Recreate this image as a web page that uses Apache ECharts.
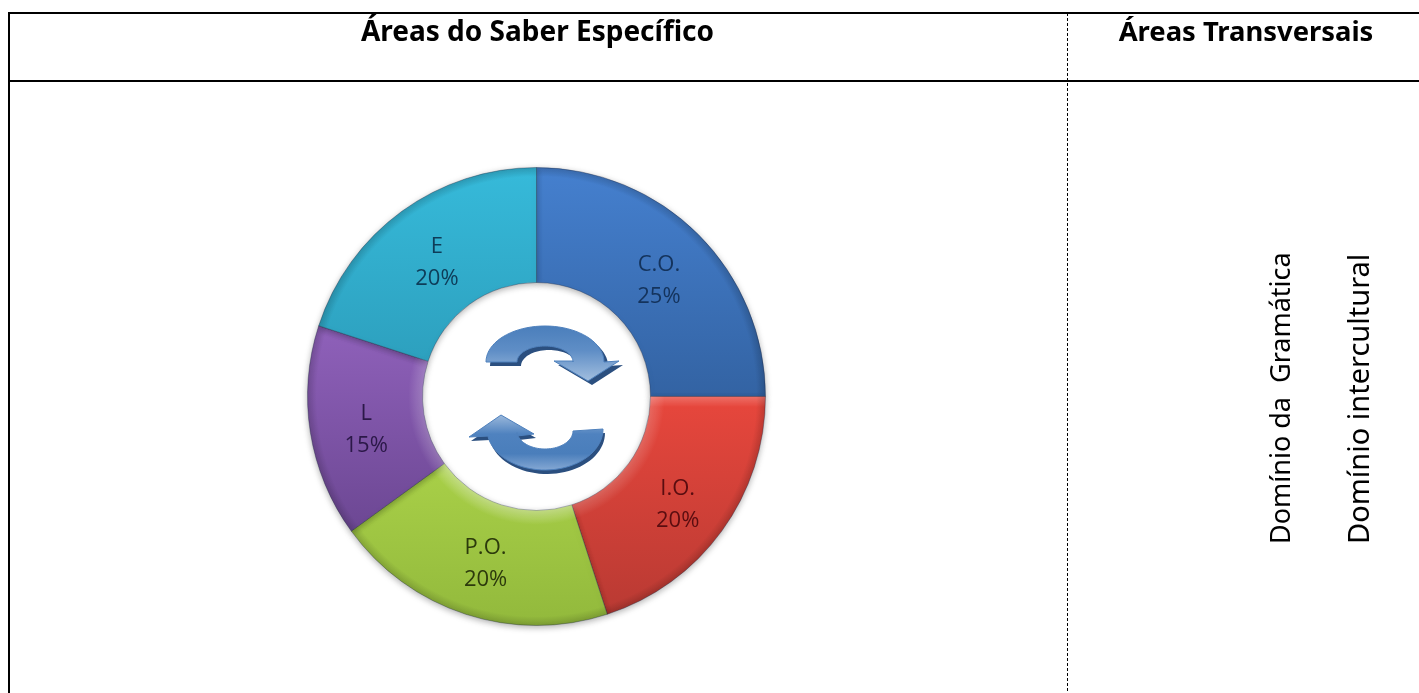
<!DOCTYPE html>
<html>
<head>
<meta charset="utf-8">
<style>
html,body{margin:0;padding:0;background:#fff}
#chart{width:1419px;height:693px}
</style>
<script src="https://cdn.jsdelivr.net/npm/echarts@6/dist/echarts.min.js"></script>
</head>
<body>
<div id="chart"></div>
<script>
var categories = ['C.O.', 'I.O.', 'P.O.', 'L', 'E']
var values = [25, 20, 20, 15, 20]
var sliceTop = ['#4580cf', '#e5463c', '#a9d048', '#8f61ba', '#36bada']
var sliceBottom = ['#3363a3', '#b93a33', '#92b93c', '#6c4793', '#2da0be']
var labelColors = ['#14335c', '#5a0d10', '#2c3a0c', '#2b1848', '#0e3c58']
var headers = ['Áreas do Saber Específico', 'Áreas Transversais']
var sideLabels = ['Domínio da  Gramática', 'Domínio intercultural']

var font = '"Noto Sans", sans-serif'
var pieCenter = [536.5, 396.5]
var pieOuter = 229
var pieInner = 114

function vgrad(stops) {
    return {
        type: 'linear', x: 0, y: 0, x2: 0, y2: 1,
        colorStops: stops.map(function (s) { return { offset: s[0], color: s[1] } })
    }
}

function solidLine(x1, y1, x2, y2) {
    return {
        type: 'line', shape: { x1: x1, y1: y1, x2: x2, y2: y2 },
        style: { stroke: '#000', lineWidth: 2 }, silent: true
    }
}

// meia elipse para as setas, angulos em graus
function arc(cx, cy, rx, ry, from, to) {
    var pts = []
    for (var i = 0; i <= 40; i++) {
        var a = (from + (to - from) * i / 40) * Math.PI / 180
        pts.push([cx + rx * Math.cos(a), cy + ry * Math.sin(a)])
    }
    return pts
}

function arrow(points, fill, dx, dy) {
    return [
        { type: 'polygon', x: dx, y: dy, shape: { points: points }, style: { fill: '#2b4f7f' }, z: 5, silent: true },
        { type: 'polygon', shape: { points: points }, style: { fill: fill, stroke: '#4f81bd', lineWidth: 1 }, z: 6, silent: true }
    ]
}

// setas do centro, o contorno segue a imagem
var topArrow = arc(545, 362, 59, 36, 180, 360)
    .concat([[619, 361], [588, 381], [554, 361], [573, 361]])
    .concat(arc(545, 362, 28, 16, 360, 180))
var bottomArrow = arc(545, 429, 58, 41, 0, 170)
    .concat([[469, 437], [501, 415], [534, 434], [517, 436]])
    .concat(arc(545, 431, 28, 18, 175, 0))

var graphics = [
    solidLine(8, 13, 1419, 13),
    solidLine(9, 12, 9, 693),
    solidLine(8, 81, 1419, 81),
    {
        type: 'line', shape: { x1: 1067.5, y1: 13, x2: 1067.5, y2: 693 },
        style: { stroke: '#000', lineWidth: 1, lineDash: [3, 2] }, silent: true
    },
    { type: 'text', x: 537.5, y: 33, style: { text: headers[0], font: 'bold 28px ' + font, fill: '#000', align: 'center', verticalAlign: 'middle' } },
    { type: 'text', x: 1246, y: 33, style: { text: headers[1], font: 'bold 27.4px ' + font, fill: '#000', align: 'center', verticalAlign: 'middle' } },
    { type: 'text', x: 1282, y: 544, rotation: Math.PI / 2, style: { text: sideLabels[0], font: '27px ' + font, fill: '#000', align: 'left', verticalAlign: 'middle' } },
    { type: 'text', x: 1361, y: 544, rotation: Math.PI / 2, style: { text: sideLabels[1], font: '29px ' + font, fill: '#000', align: 'left', verticalAlign: 'middle' } }
]
graphics = graphics.concat(
    arrow(topArrow, vgrad([[0, '#4a7ebb'], [0.45, '#5f8ec6'], [1, '#a3bfdf']]), 4, 4),
    arrow(bottomArrow, vgrad([[0, '#9dbadc'], [0.35, '#4f82bf'], [0.7, '#4a7ebb'], [1, '#86a9d4']]), 2, 4)
)

var pieData = categories.map(function (name, i) {
    var stops = [[0, sliceTop[i]], [1, sliceBottom[i]]]
    // so o I.O. tem o topo reto com brilho
    if (name === 'I.O.') stops = [[0, '#f2736b'], [0.05, sliceTop[i]], [1, sliceBottom[i]]]
    return {
        name: name,
        value: values[i],
        itemStyle: { color: vgrad(stops) }
    }
})

// brilho junto ao furo nas fatias de baixo e borda escura por fora
var bevelAlpha = [0, 0.18, 0.32, 0.2, 0]
// ajuste fino dos rotulos em relacao ao meio do anel
var labelNudge = { 'C.O.': [-1, 8], 'I.O.': [0, 6], 'P.O.': [3, 1], 'L': [2, 6], 'E': [3, 7] }
var bevelData = categories.map(function (name, i) {
    return {
        name: name,
        value: values[i],
        label: { color: labelColors[i], offset: labelNudge[name] },
        itemStyle: {
            color: {
                type: 'radial', x: pieCenter[0], y: pieCenter[1], r: pieOuter, global: true,
                colorStops: [
                    { offset: 0, color: 'rgba(255,255,255,' + bevelAlpha[i] + ')' },
                    { offset: 0.5, color: 'rgba(255,255,255,' + bevelAlpha[i] + ')' },
                    { offset: 0.56, color: 'rgba(255,255,255,0)' },
                    { offset: 0.96, color: 'rgba(0,0,0,0)' },
                    { offset: 1, color: 'rgba(0,0,0,0.16)' }
                ]
            }
        }
    }
})

var option = {
    animation: false,
    backgroundColor: '#fff',
    graphic: { elements: graphics },
    series: [
        {
            type: 'pie',
            center: pieCenter,
            radius: [pieInner, pieOuter],
            startAngle: 90,
            clockwise: true,
            avoidLabelOverlap: false,
            itemStyle: {
                borderColor: 'rgba(30,40,70,0.35)',
                borderWidth: 1,
                shadowBlur: 6,
                shadowColor: 'rgba(0,0,0,0.3)',
                shadowOffsetY: 2
            },
            label: { show: false },
            labelLine: { show: false },
            data: pieData
        },
        {
            type: 'pie',
            silent: true,
            center: pieCenter,
            radius: [pieInner, pieOuter],
            startAngle: 90,
            z: 3,
            avoidLabelOverlap: false,
            label: {
                show: true,
                position: 'inside',
                formatter: '{b}\n{d}%',
                fontFamily: '"Open Sans", sans-serif',
                fontSize: 22,
                lineHeight: 32
            },
            labelLine: { show: false },
            data: bevelData
        }
    ]
}

echarts.init(document.getElementById('chart')).setOption(option)
</script>
</body>
</html>
